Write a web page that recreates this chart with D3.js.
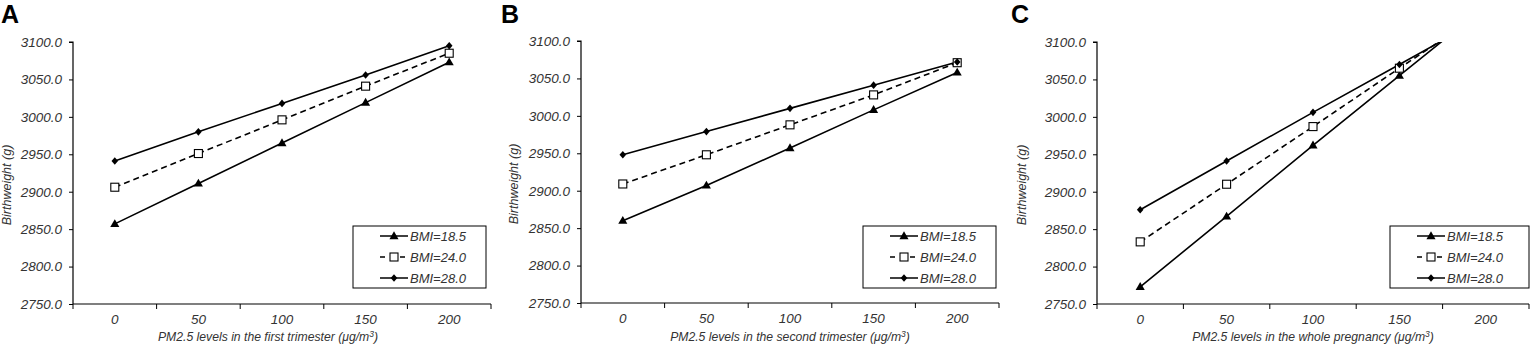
<!DOCTYPE html>
<html><head><meta charset="utf-8">
<script src="https://cdn.jsdelivr.net/npm/d3@7"></script>
<style>
html,body{margin:0;padding:0;background:#fff;}
svg{display:block;font-family:"Liberation Sans",Arial,sans-serif;}
</style></head>
<body><svg id="c" width="1535" height="346"></svg>
<script>
// ---- data ----
const pm25Levels = ["0", "50", "100", "150", "200"];
const yTickValues = [2750, 2800, 2850, 2900, 2950, 3000, 3050, 3100];
const seriesNames = ["BMI=18.5", "BMI=24.0", "BMI=28.0"];
const panelLetters = ["A", "B", "C"];
const xTitles = ["PM2.5 levels in the first trimester", "PM2.5 levels in the second trimester", "PM2.5 levels in the whole pregnancy"];

const firstBMI185 = [2857, 2911, 2965, 3019, 3073];
const firstBMI240 = [2906, 2951, 2996, 3041, 3085];
const firstBMI280 = [2941, 2980, 3018, 3056, 3095];

const secondBMI185 = [2860, 2907, 2957, 3008, 3058];
const secondBMI240 = [2909, 2948, 2988, 3028, 3071];
const secondBMI280 = [2948, 2979, 3010, 3041, 3072];

const wholeBMI185 = [2773, 2867, 2962, 3055, 3148];
const wholeBMI240 = [2833, 2910, 2987, 3065, 3142];
const wholeBMI280 = [2876, 2941, 3006, 3070, 3134];

const panelData = [
  [firstBMI185, firstBMI240, firstBMI280],
  [secondBMI185, secondBMI240, secondBMI280],
  [wholeBMI185, wholeBMI240, wholeBMI280]
];

// ---- layout ----
const layouts = [
  {left: 73, right: 491, top: 42, bottom: 304, letterX: 1, titleX: 268, ytitleX: 11, legend: [353, 226, 486, 288]},
  {left: 581, right: 999, top: 41, bottom: 303, letterX: 501, titleX: 790, ytitleX: 518, legend: [863, 226, 996, 288]},
  {left: 1097, right: 1529, top: 42, bottom: 304, letterX: 1011, titleX: 1313, ytitleX: 1026, legend: [1390, 226, 1529, 288]}
];

const svg = d3.select("#c");
const textCol = "#333";
const fmt = d3.format(".1f");
const FF = "Liberation Sans, Arial, sans-serif";

function marker(g, type, x, y) {
  if (type === 0) {
    g.append("path").attr("d", d3.symbol(d3.symbolTriangle, 36)()).attr("transform", `translate(${x},${y + 0.5})`).attr("fill", "#000");
  } else if (type === 1) {
    g.append("rect").attr("x", x - 4).attr("y", y - 4).attr("width", 8).attr("height", 8).attr("fill", "#fff").attr("stroke", "#000").attr("stroke-width", 1.1);
  } else {
    g.append("path").attr("d", "M0,-3.8L3.3,0L0,3.8L-3.3,0Z").attr("transform", `translate(${x},${y})`).attr("fill", "#000");
  }
}

panelData.forEach((series, pi) => {
  const L = layouts[pi];
  const g = svg.append("g");
  const x = d3.scaleBand().domain(pm25Levels).range([L.left, L.right]);
  const y = d3.scaleLinear().domain([2750, 3100]).range([L.bottom, L.top]);

  // panel letter
  g.append("text").attr("x", L.letterX).attr("y", 23).attr("font-size", 25).attr("font-weight", "bold").attr("fill", "#000").text(panelLetters[pi]);

  // axes
  const yAxis = d3.axisLeft(y).tickValues(yTickValues).tickSize(4).tickPadding(7).tickFormat(fmt);
  const ya = g.append("g").attr("transform", `translate(${L.left},0)`).call(yAxis);
  const xAxis = d3.axisBottom(x).tickSize(0).tickPadding(10);
  const xa = g.append("g").attr("transform", `translate(0,${L.bottom})`).call(xAxis);
  const bounds = pm25Levels.map(d => x(d)).concat([L.right]);
  xa.selectAll(".bt").data(bounds).enter().append("line").attr("class", "bt")
    .attr("x1", d => d).attr("x2", d => d).attr("y1", 0).attr("y2", 5).attr("stroke", "#000");
  [ya, xa].forEach(a => {
    a.attr("font-family", FF).attr("font-size", 13.5);
    a.select(".domain").attr("stroke", "#000").attr("stroke-width", 1.2);
    a.selectAll(".tick line").attr("stroke", "#000");
    a.selectAll(".tick text").attr("font-size", 13.5).attr("font-style", "italic").attr("fill", textCol).attr("font-family", FF);
  });
  xa.select(".domain").attr("d", `M${L.left},0H${L.right}`);
  ya.select(".domain").attr("d", `M-4,${L.top}H0V${L.bottom}`);

  // axis titles
  const xt = g.append("text").attr("x", L.titleX).attr("y", 341).attr("text-anchor", "middle").attr("font-size", 12.2).attr("font-style", "italic").attr("fill", textCol);
  xt.append("tspan").text(xTitles[pi] + " (μg/m");
  xt.append("tspan").attr("font-size", 8.5).attr("dy", -4.5).text("3");
  xt.append("tspan").attr("dy", 4.5).text(")");
  g.append("text").attr("transform", `translate(${L.ytitleX},${(L.top + L.bottom) / 2 + 12}) rotate(-90)`).attr("text-anchor", "middle")
    .attr("font-size", 12.5).attr("font-style", "italic").attr("fill", textCol).text("Birthweight (g)");

  // clip
  const cid = "clip" + pi;
  svg.append("defs").append("clipPath").attr("id", cid).append("rect")
    .attr("x", L.left).attr("y", L.top).attr("width", L.right - L.left).attr("height", L.bottom - L.top);
  const plot = g.append("g").attr("clip-path", `url(#${cid})`);
  const line = d3.line().x((d, i) => x(pm25Levels[i]) + x.bandwidth() / 2).y(d => y(d));
  series.forEach((vals, si) => {
    plot.append("path").datum(vals).attr("d", line).attr("fill", "none").attr("stroke", "#000").attr("stroke-width", 1.6)
      .attr("stroke-dasharray", si === 1 ? "6,4" : null);
  });
  series.forEach((vals, si) => {
    vals.forEach((v, i) => marker(plot, si, x(pm25Levels[i]) + x.bandwidth() / 2, y(v)));
  });

  // legend
  const [lx0, ly0, lx1, ly1] = L.legend;
  const lg = g.append("g");
  lg.append("rect").attr("x", lx0).attr("y", ly0).attr("width", lx1 - lx0).attr("height", ly1 - ly0).attr("fill", "#fff").attr("stroke", "#000").attr("stroke-width", 1);
  const legX = lx0 + 27;
  seriesNames.forEach((name, si) => {
    const yy = ly0 + 10 + si * 21;
    lg.append("line").attr("x1", legX).attr("x2", legX + 28).attr("y1", yy).attr("y2", yy).attr("stroke", "#000").attr("stroke-width", 1.5)
      .attr("stroke-dasharray", si === 1 ? "5,5" : null);
    marker(lg, si, legX + 14, yy);
    lg.append("text").attr("x", legX + 30).attr("y", yy + 4.5).attr("font-size", 13).attr("font-style", "italic").attr("fill", textCol).text(name);
  });
});
</script></body></html>
